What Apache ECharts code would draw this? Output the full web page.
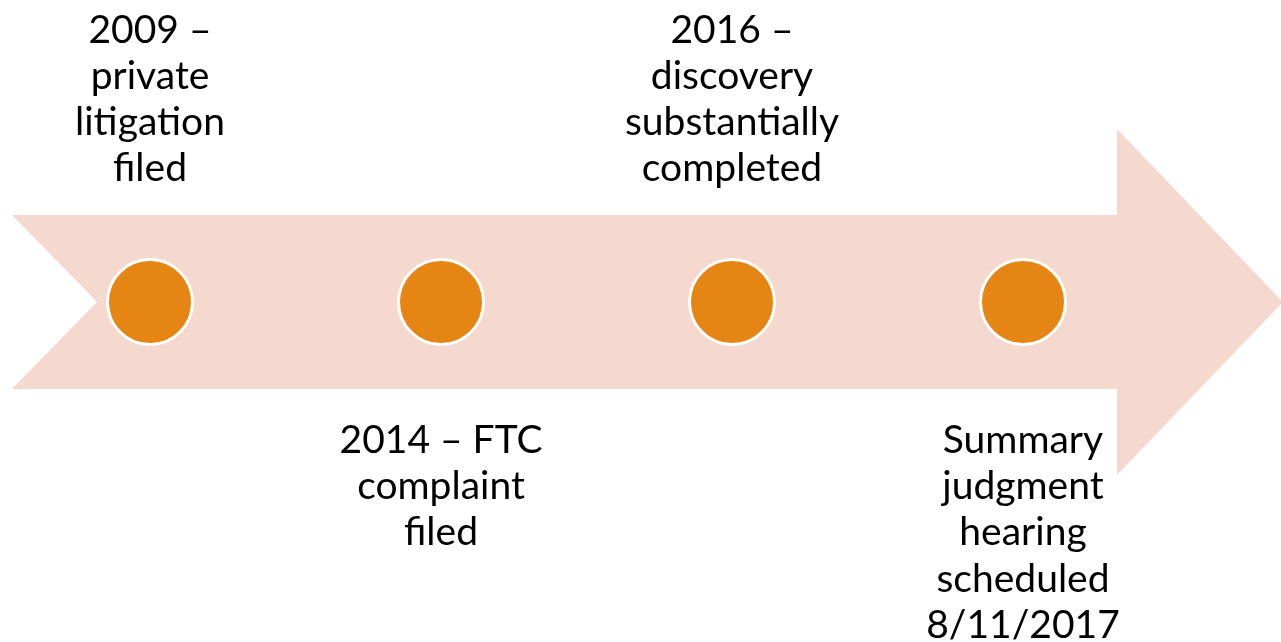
<!DOCTYPE html>
<html>
<head>
<meta charset="utf-8">
<script src="https://cdn.jsdelivr.net/npm/echarts@6/dist/echarts.min.js"></script>
<style>
  html, body { margin: 0; padding: 0; background: #ffffff; }
  #chart { width: 1281px; height: 642px; }
</style>
</head>
<body>
<div id="chart"></div>
<script>
// milestones along the timeline, left to right
const milestones = ["2009", "2014", "2016", "2017"];
const labels = [
  "2009 –\nprivate\nlitigation\nfiled",
  "2014 – FTC\ncomplaint\nfiled",
  "2016 –\ndiscovery\nsubstantially\ncompleted",
  "Summary\njudgment\nhearing\nscheduled\n8/11/2017",
];
// labels alternate above / below the arrow
const sides = ["top", "bottom", "top", "bottom"];
const level = [0.5, 0.5, 0.5, 0.5];

const chart = echarts.init(document.getElementById("chart"));

const arrowColor = "#F5D9CE";
const dotColor = "#E58514";

chart.setOption({
  backgroundColor: "#ffffff",
  animation: false,
  grid: { left: 4.5, right: 112.5, top: 0, bottom: 38 },
  xAxis: {
    type: "category",
    data: milestones,
    show: false,
  },
  yAxis: { type: "value", min: 0, max: 1, show: false },
  graphic: [
    {
      type: "polygon",
      z: -1,
      silent: true,
      shape: {
        points: [
          [12, 215], [1117, 215], [1117, 129], [1283, 302],
          [1117, 475], [1117, 389], [12, 389], [97, 302],
        ],
      },
      style: { fill: arrowColor },
    },
  ],
  series: [
    {
      type: "scatter",
      symbol: "circle",
      symbolSize: 85,
      itemStyle: { color: dotColor, borderColor: "#ffffff", borderWidth: 3, opacity: 1 },
      data: level.map((v, i) => ({
        value: [i, v],
        label: {
          show: true,
          position: sides[i],
          distance: sides[i] === "top" ? 66 : 71,
          formatter: labels[i],
        },
      })),
      label: {
        color: "#000000",
        fontFamily: "Lato",
        fontSize: 39,
        lineHeight: 46.3,
        align: "center",
      },
      emphasis: { disabled: true },
    },
  ],
});
</script>
</body>
</html>
